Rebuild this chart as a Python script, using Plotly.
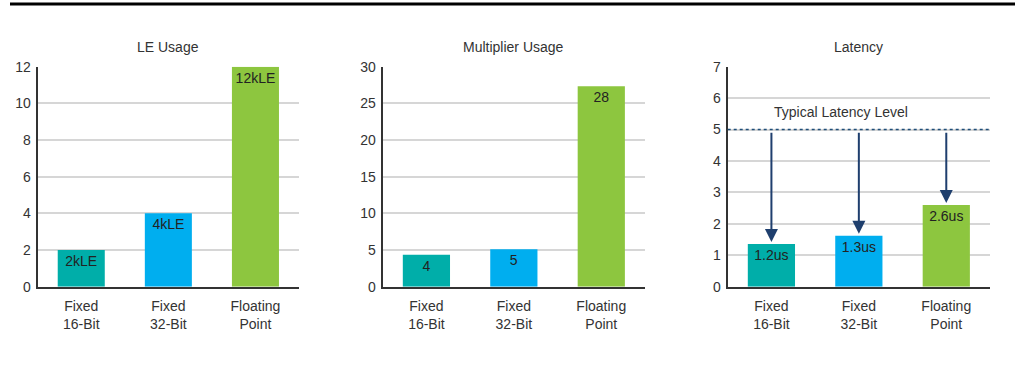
import plotly.graph_objects as go

categories = ["Fixed<br>16-Bit", "Fixed<br>32-Bit", "Floating<br>Point"]
bar_colors = ["#00AEA9", "#00AEEF", "#8DC63F"]

le_title = "LE Usage"
le_values = [2, 4, 12]
le_labels = ["2kLE", "4kLE", "12kLE"]

mult_title = "Multiplier Usage"
mult_values = [4.35, 5.1, 27.35]
mult_labels = ["4", "5", "28"]

lat_title = "Latency"
lat_values = [1.36, 1.62, 2.6]
lat_labels = ["1.2us", "1.3us", "2.6us"]
typical_latency = 5
typical_label = "Typical Latency Level"

FONT = "Liberation Sans, Arial, sans-serif"
W, H = 1015, 365

panels = [
    (le_title, le_values, le_labels, [0, 12], 2, (37.7, 299)),
    (mult_title, mult_values, mult_labels, [0, 30], 5, (382.7, 645)),
    (lat_title, lat_values, lat_labels, [0, 7], 1, (727.7, 990)),
]

y_top, y_bot = 66.7, 286.7
ydom = [(H - y_bot) / H, (H - y_top) / H]

fig = go.Figure()
layout = dict(
    template="none",
    width=W, height=H, autosize=False,
    margin=dict(l=0, r=0, t=0, b=0, pad=0),
    paper_bgcolor="white", plot_bgcolor="white",
    showlegend=False,
    font=dict(family=FONT, size=14, color="#333333"),
    bargap=0.46,
)
annotations = []
shapes = []

for i, (title, vals, labels, rng, dt, (x0, x1)) in enumerate(panels):
    n = "" if i == 0 else str(i + 1)
    fig.add_trace(go.Bar(
        x=categories, y=vals, text=labels,
        marker=dict(color=bar_colors, line=dict(width=0)),
        textposition="inside", insidetextanchor="end", textangle=0,
        constraintext="none",
        textfont=dict(family=FONT, size=14, color="#222222"),
        xaxis="x" + n, yaxis="y" + n, hoverinfo="skip",
    ))
    layout["xaxis" + n] = dict(
        domain=[x0 / W, x1 / W], anchor="y" + n, automargin=False,
        showline=True, linecolor="#333333", linewidth=2,
        showgrid=False, zeroline=False, ticks="", ticklabelstandoff=5,
        tickfont=dict(family=FONT, size=14, color="#333333"),
        fixedrange=True,
    )
    layout["yaxis" + n] = dict(
        domain=ydom, anchor="x" + n, range=rng, dtick=dt, automargin=False,
        showline=True, linecolor="#333333", linewidth=2,
        showgrid=True, gridcolor="#d6d6d6", gridwidth=1.5,
        zeroline=False, ticks="", ticklabelstandoff=2,
        tickfont=dict(family=FONT, size=14, color="#333333"),
        fixedrange=True,
    )
    annotations.append(dict(
        text=title, xref="paper", yref="paper",
        x=(x0 + x1) / 2 / W, y=(H - 46.7) / H,
        xanchor="center", yanchor="middle", showarrow=False,
        font=dict(family=FONT, size=14, color="#333333"),
    ))

# Typical latency dotted line
shapes.append(dict(
    type="line", xref="x3 domain", yref="y3",
    x0=0, x1=1, y0=typical_latency, y1=typical_latency,
    line=dict(color="#1F4E79", width=1.5, dash="dot"),
))
annotations.append(dict(
    text=typical_label, xref="x3", yref="y3",
    x=0.8, y=typical_latency, yanchor="bottom", xanchor="center",
    yshift=8, showarrow=False,
    font=dict(family=FONT, size=14, color="#333333"),
))
for j, v in enumerate(lat_values):
    annotations.append(dict(
        x=j, y=v, ax=j, ay=typical_latency - 0.05,
        xref="x3", yref="y3", axref="x3", ayref="y3",
        text="", showarrow=True, arrowhead=2, arrowsize=1.3,
        arrowwidth=2, arrowcolor="#1F3F6E", standoff=2,
    ))

# Top black rule
shapes.append(dict(
    type="line", xref="paper", yref="paper",
    x0=10 / W, x1=1, y0=(H - 4) / H, y1=(H - 4) / H,
    line=dict(color="black", width=3),
))

layout["annotations"] = annotations
layout["shapes"] = shapes
fig.update_layout(**layout)
fig.write_html("out.html", config={"displayModeBar": False})
